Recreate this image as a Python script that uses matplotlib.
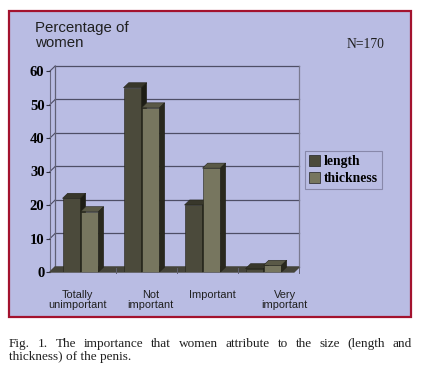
import numpy as np
import matplotlib
matplotlib.use("Agg")
import matplotlib.pyplot as plt
from matplotlib.patches import Rectangle, Patch

# ---- data
categories = ["Totally\nunimportant", "Not\nimportant", "Important", "Very\nimportant"]
length = [22, 55, 20, 1]
thickness = [18, 49, 31, 2]
yticks = [0, 10, 20, 30, 40, 50, 60]
caption_lines = ["Fig. 1. The importance that women attribute to the size (length and",
                 "thickness) of the penis."]

# ---- style
bg = "#b9bce3"
border = "#a3122e"
len_cols = ("#4b4a3b", "#38372b", "#1d1d15")     # front, top, side
thk_cols = ("#77765f", "#5a5947", "#29281e")
grid_col = "#4e4e66"
dx, dy = 0.085, 1.5    # fake depth (data units)
bw = 0.295

W, H = 424, 371
fig = plt.figure(figsize=(W / 100, H / 100), dpi=100)
fig.patch.set_facecolor("white")

# panel
fig.patches.append(Rectangle((9 / W, 1 - 317 / H), 402 / W, 306 / H, transform=fig.transFigure,
                             facecolor=bg, edgecolor=border, linewidth=1.6, zorder=-5))

ax = fig.add_axes([50 / W, 1 - 272 / H, 244 / W, 201 / H])
ax.set_zorder(2)
ax.patch.set_visible(False)
for s in ax.spines.values():
    s.set_visible(False)
ax.set_xlim(-0.5, 3.5)
ax.set_ylim(0, 60)
ax.set_xticks([])
ax.set_yticks(yticks)
ax.set_yticklabels([str(t) for t in yticks], fontfamily="Liberation Serif", fontweight="bold",
                   fontsize=10.5)
ax.tick_params(axis="y", length=3, width=0.8, color="#303040", pad=1)

x0, x1 = -0.5, 3.5
# back wall grid + frame
for t in yticks:
    ax.plot([x0 + dx, x1 + dx], [t + dy, t + dy], color=grid_col, lw=0.9, clip_on=False, zorder=1)
    ax.plot([x0, x0 + dx], [t, t + dy], color=grid_col, lw=0.8, clip_on=False, zorder=1)
ax.plot([x0, x0], [0, 60], color="#6a6a82", lw=0.8, clip_on=False, zorder=1)
ax.plot([x0 + dx, x0 + dx], [dy, 60 + dy], color="#606075", lw=0.9, clip_on=False, zorder=1)
ax.plot([x1 + dx, x1 + dx], [dy, 60 + dy], color="#7a7a90", lw=0.9, clip_on=False, zorder=1)

# floor
ax.fill([x0, x1, x1 + dx, x0 + dx], [0, 0, dy, dy], color="#45443a", zorder=2, clip_on=False)
for b in [0.5, 1.5, 2.5, 3.5]:
    ax.plot([b + dx, b + dx], [dy - 0.3, dy - 1.8], color="#606070", lw=0.7, clip_on=False, zorder=2)

x = np.arange(len(categories))
z = 3
for vals, off, cols in [(length, -bw / 2, len_cols), (thickness, bw / 2, thk_cols)]:
    for xi, v in zip(x, vals):
        l = xi + off - bw / 2
        r = xi + off + bw / 2
        ax.bar(xi + off, v, width=bw, color=cols[0], edgecolor="#222218", linewidth=0.4, zorder=z)
        ax.fill([l, r, r + dx, l + dx], [v, v, v + dy, v + dy], color=cols[1],
                edgecolor="#222218", linewidth=0.4, zorder=z, clip_on=False)
        ax.fill([r, r + dx, r + dx, r], [0, dy, v + dy, v], color=cols[2],
                edgecolor="#222218", linewidth=0.4, zorder=z, clip_on=False)
    z += 1

# category labels
label_x = [-0.05, 0.15, 0.17, 0.35]
for xi, lab, o in zip(x, categories, label_x):
    ax.text(xi + o, -5.3, lab, ha="center", va="top", fontsize=7.9,
            fontfamily="Liberation Sans", color="#202020", linespacing=1.0)

# legend
handles = [Patch(facecolor=len_cols[0], edgecolor="#222222", linewidth=0.5, label="length"),
           Patch(facecolor=thk_cols[0], edgecolor="#222222", linewidth=0.5, label="thickness")]
leg = fig.legend(handles=handles, loc="upper left", bbox_to_anchor=(305 / W, 1 - 151 / H),
                 prop={"family": "Liberation Serif", "weight": "bold", "size": 9.8},
                 frameon=True, fancybox=False, facecolor=bg, edgecolor="#7c7c9c",
                 handlelength=0.8, handleheight=0.8, handletextpad=0.3, borderpad=0.3,
                 labelspacing=0.3, borderaxespad=0)
leg.get_frame().set_linewidth(0.8)

# titles
fig.text(35 / W, 1 - 21 / H, "Percentage of\nwomen", ha="left", va="top", fontsize=10.8,
         fontfamily="Liberation Sans", color="#202020", linespacing=1.05)
fig.text(347 / W, 1 - 45 / H, "N=170", ha="left", va="center", fontsize=9.8,
         fontfamily="Liberation Serif", color="#202020")

# caption, first line justified
fig.canvas.draw()
r = fig.canvas.get_renderer()
left_px, right_px = 9, 412
cap_size = 9.5
words = caption_lines[0].split()
objs = [fig.text(0, 0, w, fontsize=cap_size, fontfamily="Liberation Serif", color="#202020",
                 va="baseline") for w in words]
widths = [o.get_window_extent(r).width for o in objs]
gap = (right_px - left_px - sum(widths)) / (len(words) - 1)
pos = left_px
for o, w in zip(objs, widths):
    o.set_position((pos / W, 1 - 347 / H))
    pos += w + gap
fig.text(left_px / W, 1 - 360 / H, caption_lines[1], fontsize=cap_size, fontfamily="Liberation Serif",
         color="#202020", va="baseline")

fig.savefig("out.png", dpi=100, facecolor="white")
